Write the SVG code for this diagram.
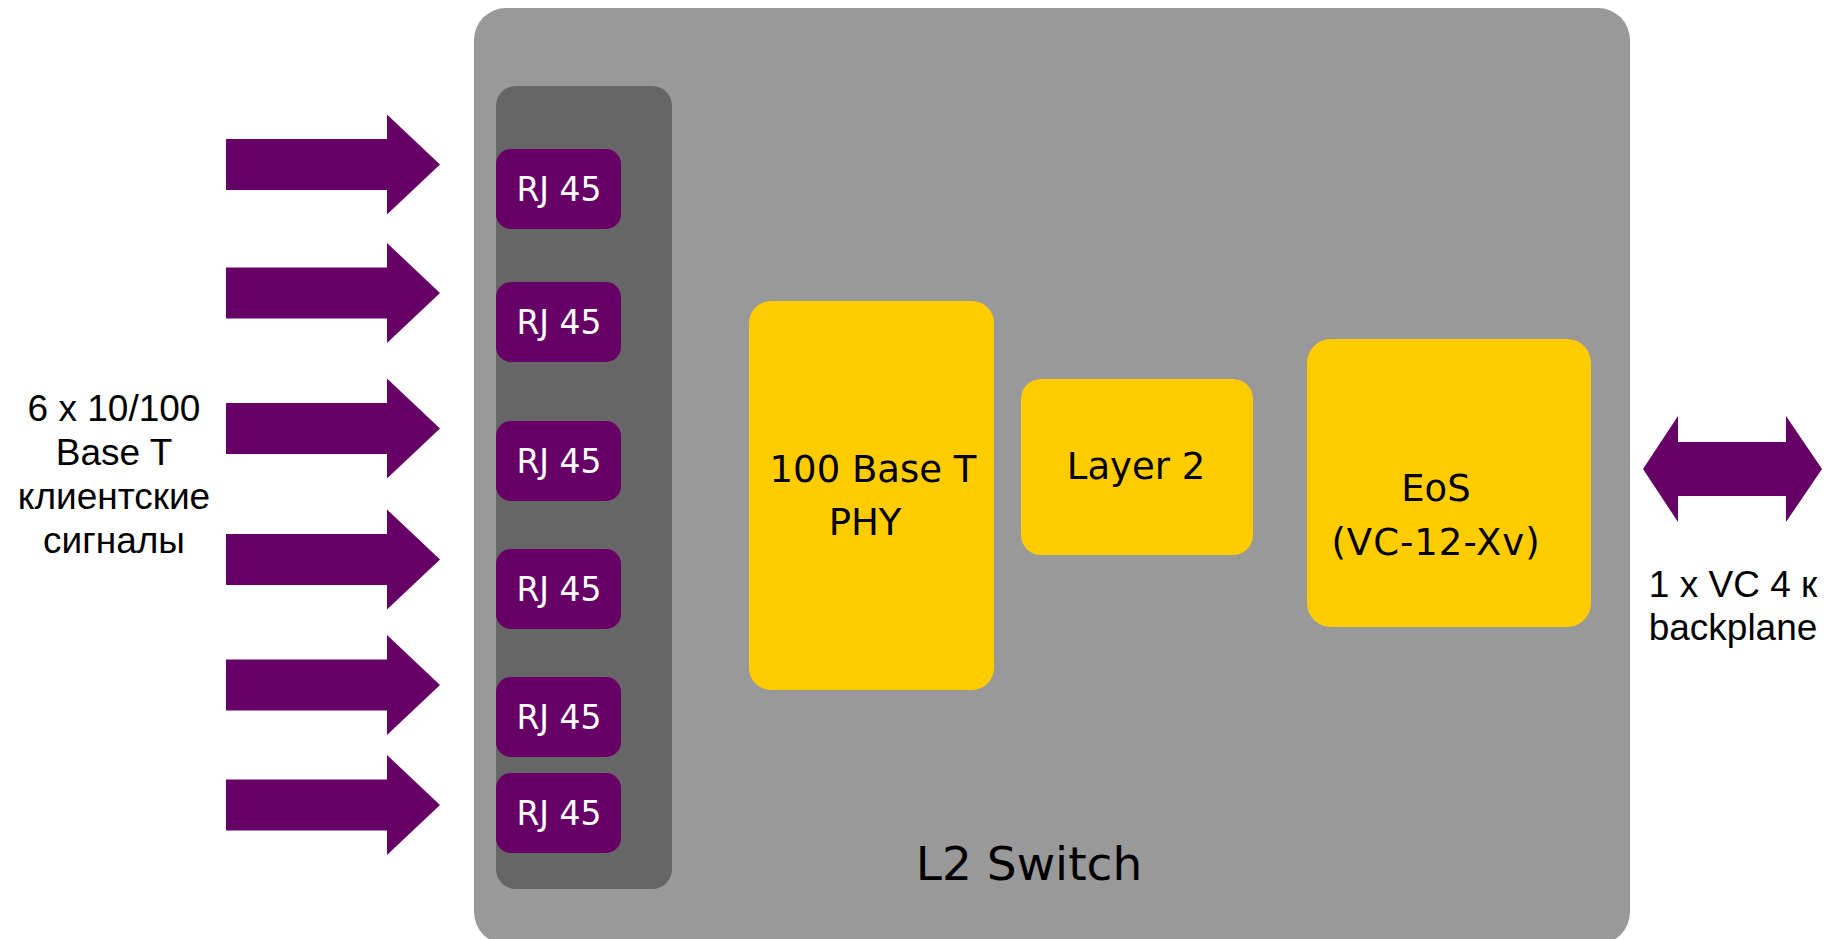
<svg xmlns="http://www.w3.org/2000/svg" width="1836" height="939" viewBox="0 0 1836 939">
<style>
.lbl{font-family:"Liberation Sans",Arial,sans-serif;font-size:37px;fill:#000;text-anchor:middle}
.v{font-family:"DejaVu Sans",Verdana,sans-serif;fill:#000;text-anchor:middle}
.rj rect{fill:#660066}
.rj text{font-family:"DejaVu Sans",Verdana,sans-serif;font-size:33px;fill:#fff;text-anchor:middle}
.y{fill:#FFCC00}
.arr{fill:#660066}
</style>
<rect width="1836" height="939" fill="#fff"/>
<g id="l2switch">
<rect x="474" y="8" width="1156" height="936" rx="32" ry="32" fill="#999999"/>
<text class="v" x="1029" y="880" font-size="47">L2 Switch</text>
</g>
<g id="port-panel">
<rect x="496" y="86" width="176" height="803" rx="20" ry="20" fill="#666666"/>
</g>
<g id="rj1" class="rj"><rect x="496" y="149" width="125" height="80" rx="15"/><text x="559" y="201">RJ 45</text></g>
<g id="rj2" class="rj"><rect x="496" y="282" width="125" height="80" rx="15"/><text x="559" y="334">RJ 45</text></g>
<g id="rj3" class="rj"><rect x="496" y="421" width="125" height="80" rx="15"/><text x="559" y="473">RJ 45</text></g>
<g id="rj4" class="rj"><rect x="496" y="549" width="125" height="80" rx="15"/><text x="559" y="601">RJ 45</text></g>
<g id="rj5" class="rj"><rect x="496" y="677" width="125" height="80" rx="15"/><text x="559" y="729">RJ 45</text></g>
<g id="rj6" class="rj"><rect x="496" y="773" width="125" height="80" rx="15"/><text x="559" y="825">RJ 45</text></g>
<g id="phy">
<rect class="y" x="749" y="301" width="245" height="389" rx="22"/>
<text class="v" x="873" y="482" font-size="37">100 Base T</text>
<text class="v" x="865" y="535" font-size="37">PHY</text>
</g>
<g id="layer2">
<rect class="y" x="1021" y="379" width="232" height="176" rx="20"/>
<text class="v" x="1136" y="479" font-size="37">Layer 2</text>
</g>
<g id="eos">
<rect class="y" x="1307" y="339" width="284" height="288" rx="24"/>
<text class="v" x="1436" y="501" font-size="37">EoS</text>
<text class="v" x="1436" y="555" font-size="37" letter-spacing="1">(VC-12-Xv)</text>
</g>
<g id="client-label">
<text class="lbl" x="114" y="421">6 x 10/100</text>
<text class="lbl" x="114" y="465">Base T</text>
<text class="lbl" x="114" y="509">клиентские</text>
<text class="lbl" x="114" y="553">сигналы</text>
</g>
<g id="backplane-label">
<text class="lbl" x="1733" y="597">1 x VC 4 к</text>
<text class="lbl" x="1733" y="640">backplane</text>
</g>
<g id="connectors">
<polygon class="arr" points="226,139 387,139 387,114.5 440,164.5 387,214.5 387,190 226,190"/>
<polygon class="arr" points="226,267.5 387,267.5 387,243 440,293 387,343 387,318.5 226,318.5"/>
<polygon class="arr" points="226,403 387,403 387,378.5 440,428.5 387,478.5 387,454 226,454"/>
<polygon class="arr" points="226,534 387,534 387,509.5 440,559.5 387,609.5 387,585 226,585"/>
<polygon class="arr" points="226,659.5 387,659.5 387,635 440,685 387,735 387,710.5 226,710.5"/>
<polygon class="arr" points="226,779.5 387,779.5 387,755 440,805 387,855 387,830.5 226,830.5"/>
<polygon class="arr" points="1643,469 1678,416 1678,442 1786,442 1786,416 1822,469 1786,522 1786,496 1678,496 1678,522"/>
</g>
</svg>
